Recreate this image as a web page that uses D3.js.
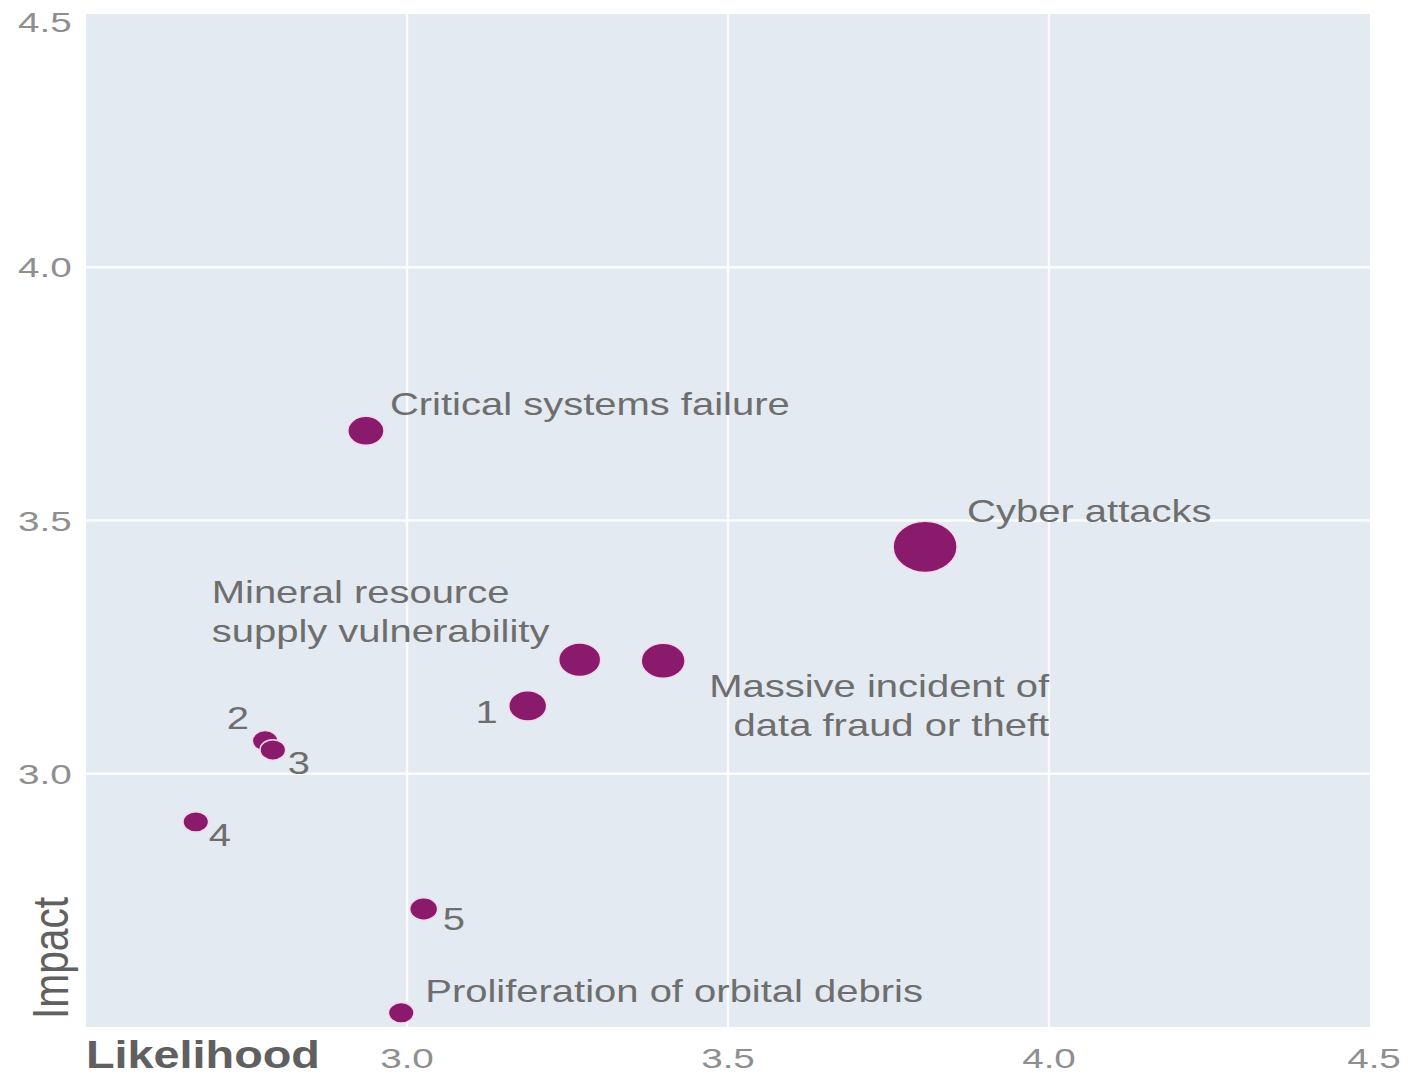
<!DOCTYPE html>
<html lang="en">
<head>
<meta charset="UTF-8">
<title>Risk bubble chart</title>
<style>
    body { margin: 0; background: #fff; font-family: "Liberation Sans", Arial, sans-serif; }
    .tick-label { fill: #8f8f8f; font-size: 28px; }
    .risk-label { fill: #6e6e6e; font-size: 31px; }
    .axis-title { fill: #606060; }
</style>
</head>
<body>
<div id="chart"></div>
<script src="https://d3js.org/d3.v7.min.js"></script>
<script>
// risk names, likelihood (x), impact (y), bubble weight
const risks = ["Critical systems failure", "Cyber attacks", "Massive incident of data fraud or theft",
    "Mineral resource supply vulnerability", "1", "2", "3", "4", "5", "Proliferation of orbital debris"];
const likelihood = [2.936, 3.807, 3.399, 3.269, 3.188, 2.779, 2.791, 2.671, 3.026, 2.991];
const impact = [3.677, 3.448, 3.223, 3.225, 3.134, 3.065, 3.047, 2.905, 2.733, 2.528];
const weight = [32, 100, 47, 43, 35, 16, 16, 16, 19, 16];
const xTicks = [3.0, 3.5, 4.0, 4.5];
const yTicks = [3.0, 3.5, 4.0, 4.5];

// label layout: lines, offset from bubble centre, anchor
const labelLayout = [
    { lines: ["Critical systems failure"], dx: 24, dy: -16, anchor: "start" },
    { lines: ["Cyber attacks"], dx: 42, dy: -25, anchor: "start" },
    { lines: ["Massive incident of", "data fraud or theft"], dx: 386, dy: 36, anchor: "end" },
    { lines: ["Mineral resource", "supply vulnerability"], dx: -368, dy: -57, anchor: "start" },
    { lines: ["1"], dx: -30, dy: 17, anchor: "end" },
    { lines: ["2"], dx: -16, dy: -12, anchor: "end" },
    { lines: ["3"], dx: 15, dy: 24, anchor: "start" },
    { lines: ["4"], dx: 13, dy: 24, anchor: "start" },
    { lines: ["5"], dx: 19, dy: 21, anchor: "start" },
    { lines: ["Proliferation of orbital debris"], dx: 24, dy: -11, anchor: "start" }
];

const W = 1412, H = 1075;
const plot = { left: 86, right: 1370, top: 14, bottom: 1027 };
const stretch = 1.29;     // the original artwork is wider than tall
const tickStretch = 1.38;

const svg = d3.select("#chart").append("svg")
    .attr("width", W).attr("height", H);

const x = d3.scaleLinear().domain([2.5, 4.5]).range([plot.left, plot.right]);
const y = d3.scaleLinear().domain([2.5, 4.5]).range([plot.bottom, plot.top]);
const r = d3.scaleSqrt().domain([0, 100]).range([0, 32]);
const aspect = 0.8; // bubbles are drawn slightly squashed

svg.append("rect")
    .attr("x", plot.left).attr("y", plot.top)
    .attr("width", plot.right - plot.left).attr("height", plot.bottom - plot.top)
    .attr("fill", "#e4eaf1");

// grid
svg.append("g").selectAll("line").data(xTicks.filter(d => d < 4.5)).join("line")
    .attr("x1", d => x(d)).attr("x2", d => x(d))
    .attr("y1", plot.top).attr("y2", plot.bottom)
    .attr("stroke", "#fbfcfd").attr("stroke-width", 2.5);
svg.append("g").selectAll("line").data(yTicks.filter(d => d < 4.5)).join("line")
    .attr("x1", plot.left).attr("x2", plot.right)
    .attr("y1", d => y(d)).attr("y2", d => y(d))
    .attr("stroke", "#fbfcfd").attr("stroke-width", 2.5);

// tick labels
svg.append("g").selectAll("text").data(yTicks).join("text")
    .attr("class", "tick-label")
    .attr("transform", d => `translate(18, ${Math.max(y(d) + 10, 32)}) scale(${tickStretch}, 1)`)
    .text(d => d.toFixed(1));
svg.append("g").selectAll("text").data(xTicks).join("text")
    .attr("class", "tick-label")
    .attr("text-anchor", "middle")
    .attr("transform", d => `translate(${x(d) + (d === 4.5 ? 4 : 0)}, 1068) scale(${tickStretch}, 1)`)
    .text(d => d.toFixed(1));

// axis titles
svg.append("text").attr("class", "axis-title")
    .attr("transform", `translate(${plot.left}, 1068) scale(1.2, 1)`)
    .attr("font-size", 39).attr("font-weight", "bold")
    .text("Likelihood");
svg.append("text").attr("class", "axis-title")
    .attr("transform", `translate(68, ${plot.bottom - 8}) rotate(-90) scale(1.1, 1.35)`)
    .attr("font-size", 37)
    .text("Impact");

// bubbles
const data = risks.map((name, i) => ({
    name, x: likelihood[i], y: impact[i], w: weight[i], label: labelLayout[i]
}));

svg.append("g").selectAll("ellipse").data(data).join("ellipse")
    .attr("cx", d => x(d.x)).attr("cy", d => y(d.y))
    .attr("rx", d => r(d.w)).attr("ry", d => r(d.w) * aspect)
    .attr("fill", "#8a1a6c")
    .attr("stroke", "#f3d9ec").attr("stroke-width", 1.5);

const labels = svg.append("g").selectAll("text").data(data).join("text")
    .attr("class", "risk-label")
    .attr("text-anchor", d => d.label.anchor)
    .attr("transform", d => `translate(${x(d.x) + d.label.dx}, ${y(d.y) + d.label.dy}) scale(${stretch}, 1)`);

labels.selectAll("tspan").data(d => d.label.lines).join("tspan")
    .attr("x", 0)
    .attr("dy", (l, i) => i === 0 ? 0 : 39)
    .text(l => l);
</script>
</body>
</html>
